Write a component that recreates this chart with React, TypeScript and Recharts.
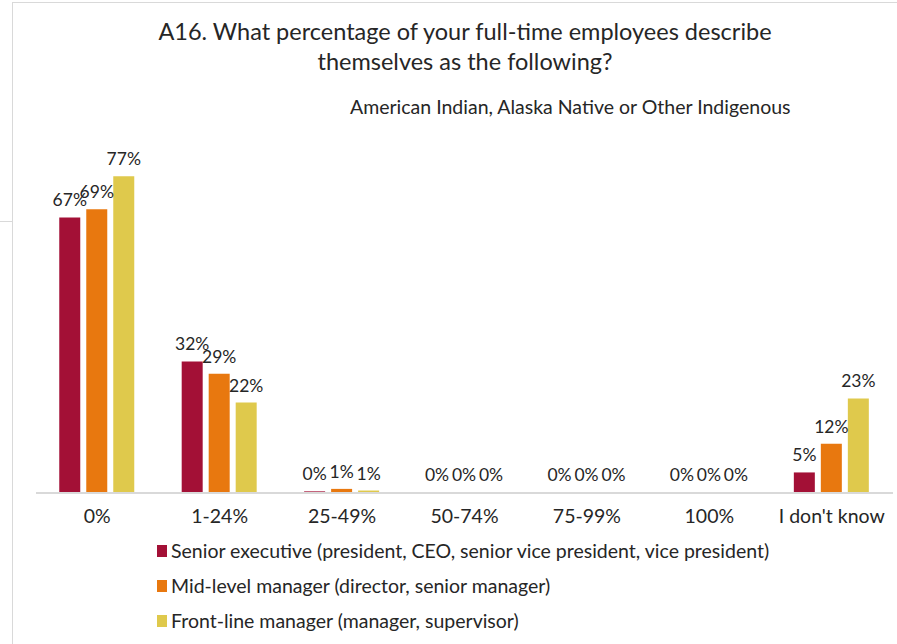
import { Bar, BarChart, LabelList, Rectangle, XAxis, YAxis } from 'recharts';

const categories = ['0%', '1-24%', '25-49%', '50-74%', '75-99%', '100%', "I don't know"];
const seniorExec = [67, 32, 0.4, 0, 0, 0, 5];
const midLevel = [69, 29, 1, 0, 0, 0, 12];
const frontLine = [77, 22, 0.6, 0, 0, 0, 23];

const seriesNames = [
    'Senior executive (president, CEO, senior vice president, vice president)',
    'Mid-level manager (director, senior manager)',
    'Front-line manager (manager, supervisor)',
];
const seriesColors = ['#A31036', '#E8780F', '#DFC94C'];
const seriesKeys = ['senior', 'mid', 'front'];

const data = categories.map((name, i) => ({
    name,
    senior: seniorExec[i],
    mid: midLevel[i],
    front: frontLine[i],
}));

const FONT = 'Lato, "Open Sans", sans-serif';

const fmt = (v: unknown) => `${Math.round(Number(v))}%`;

// zero values get a 1px min bar so the label shows, but nothing is drawn
function BarShape(props: any) {
    const { value, x, y, width, height, fill } = props;
    const v = Array.isArray(value) ? value[1] - value[0] : value;
    if (!v) {
        return null;
    }
    return <Rectangle x={x} y={y} width={width} height={height} fill={fill} />;
}

export default function App() {
    return (
        <div
            style={{
                position: 'fixed',
                left: 0,
                top: 0,
                width: 897,
                height: 644,
                background: '#fff',
                fontFamily: FONT,
                color: '#262626',
                overflow: 'hidden',
            }}
        >
            {/* frame lines */}
            <div style={{ position: 'absolute', left: 12, top: 2, right: 0, height: 1, background: '#d9d9d9' }} />
            <div style={{ position: 'absolute', left: 12, top: 2, width: 1, bottom: 0, background: '#d9d9d9' }} />
            <div style={{ position: 'absolute', left: 0, top: 221, width: 12, height: 1, background: '#d9d9d9' }} />

            <div
                style={{
                    position: 'absolute',
                    left: 0,
                    top: 16,
                    width: 930,
                    textAlign: 'center',
                    fontSize: 23.5,
                    lineHeight: '30px',
                }}
            >
                A16. What percentage of your full-time employees describe
                <br />
                themselves as the following?
            </div>
            <div style={{ position: 'absolute', left: 350, top: 95, fontSize: 19.5, whiteSpace: 'nowrap' }}>
                American Indian, Alaska Native or Other Indigenous
            </div>

            <div style={{ position: 'absolute', left: 0, top: 0 }}>
                <BarChart
                    width={897}
                    height={644}
                    data={data}
                    margin={{ top: 164, right: 4, bottom: 121, left: 36 }}
                    barCategoryGap="19%"
                    barGap={6}
                >
                    <YAxis hide domain={[0, 80]} />
                    <XAxis
                        dataKey="name"
                        height={30}
                        tickLine={false}
                        tickSize={0}
                        tickMargin={16}
                        axisLine={{ stroke: '#d9d9d9', strokeWidth: 2 }}
                        tick={{ fill: '#262626', fontSize: 19.5, fontFamily: FONT }}
                        interval={0}
                    />
                    {seriesKeys.map((k, i) => (
                        <Bar
                            key={k}
                            dataKey={k}
                            fill={seriesColors[i]}
                            minPointSize={1}
                            shape={<BarShape />}
                            isAnimationActive={false}
                        >
                            <LabelList
                                dataKey={k}
                                position="top"
                                offset={11}
                                formatter={fmt}
                                style={{ fill: '#262626', fontSize: 17.5, fontFamily: FONT }}
                            />
                        </Bar>
                    ))}
                </BarChart>
            </div>

            <div style={{ position: 'absolute', left: 157, top: 533, fontSize: 19.5 }}>
                {seriesNames.map((n, i) => (
                    <div key={n} style={{ display: 'flex', alignItems: 'center', height: 35, whiteSpace: 'nowrap' }}>
                        <span
                            style={{
                                display: 'inline-block',
                                width: 10,
                                height: 12,
                                background: seriesColors[i],
                                marginRight: 4,
                            }}
                        />
                        {n}
                    </div>
                ))}
            </div>
        </div>
    );
}
